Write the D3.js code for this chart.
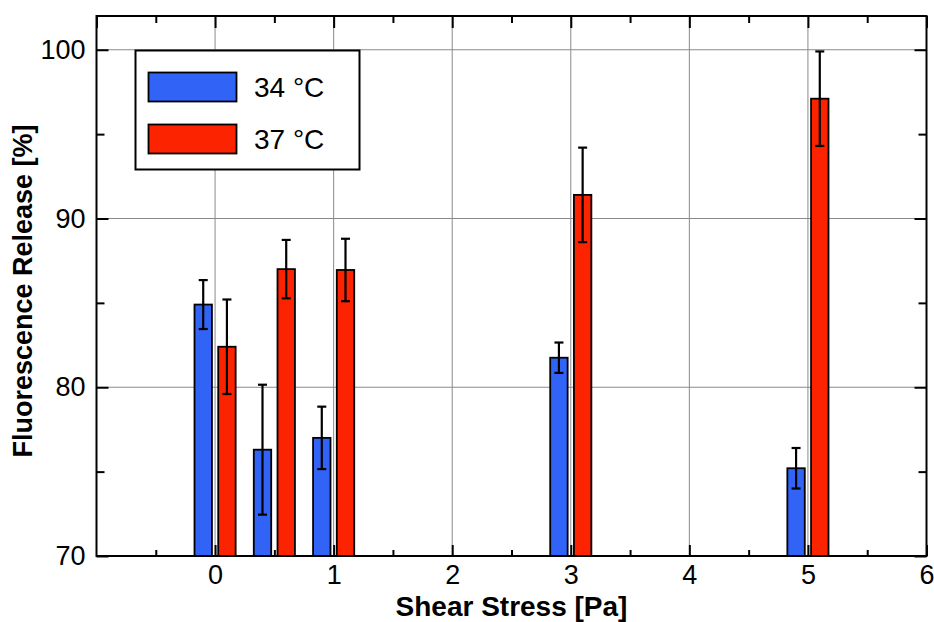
<!DOCTYPE html>
<html>
<head>
<meta charset="utf-8">
<script src="https://cdn.jsdelivr.net/npm/d3@7"></script>
<style>
  html, body { margin: 0; padding: 0; background: #fff; }
  svg { display: block; font-family: "Liberation Sans", Arial, Helvetica, sans-serif; }
</style>
</head>
<body>
<svg id="chart" width="934" height="622"></svg>
<script>
// Shear stress levels and fluorescence release at two temperatures
const shearStress = [0, 0.5, 1, 3, 5];
const release34 = [84.9, 76.3, 77.0, 81.75, 75.2];
const error34 = [1.45, 3.85, 1.85, 0.9, 1.2];
const release37 = [82.4, 87.0, 86.95, 91.4, 97.1];
const error37 = [2.8, 1.73, 1.85, 2.8, 2.8];
const seriesNames = ["34 °C", "37 °C"];
const xTickLabels = [0, 1, 2, 3, 4, 5, 6];
const yTickLabels = [70, 80, 90, 100];

const colors = ["#3063f6", "#fb2300"];
const svg = d3.select("#chart");

const x = d3.scaleLinear().domain([-1, 6]).range([96.5, 926.5]);
const y = d3.scaleLinear().domain([70, 102]).range([556, 16]);

const barW = 0.147;   // bar width in x units
const offset = 0.1;   // bar centre shift from the category value

const xMajor = d3.range(-1, 7, 1);
const xMinor = d3.range(-0.5, 6, 1);
const yMajor = d3.range(70, 101, 10);
const yMinor = d3.range(75, 101, 10);

// grid lines
const grid = svg.append("g").attr("stroke", "#8a8a8a").attr("stroke-width", 1);
grid.selectAll("line.v").data(xMajor.filter(d => d > -1 && d < 6)).join("line")
  .attr("x1", d => x(d)).attr("x2", d => x(d))
  .attr("y1", y.range()[1]).attr("y2", y.range()[0]);
grid.selectAll("line.h").data(yMajor.filter(d => d > 70)).join("line")
  .attr("y1", d => y(d)).attr("y2", d => y(d))
  .attr("x1", x.range()[0]).attr("x2", x.range()[1]);

// axes with inward ticks on all four sides
function styleAxis(g) {
  g.select(".domain").remove();
  g.selectAll(".tick line").attr("stroke", "#000").attr("stroke-width", 2);
  g.selectAll(".tick text").attr("fill", "#000").attr("font-size", 27);
}
svg.append("g").attr("transform", `translate(0,${y(70)})`)
  .call(d3.axisBottom(x).tickValues(xTickLabels.filter(d => d >= 0)).tickSize(-11).tickPadding(9).tickFormat(d3.format("d")))
  .call(styleAxis);
svg.append("g").attr("transform", `translate(0,${y(70)})`)
  .call(d3.axisBottom(x).tickValues(xMinor).tickSize(-6).tickFormat(""))
  .call(styleAxis);
svg.append("g").attr("transform", `translate(0,${y(102)})`)
  .call(d3.axisTop(x).tickValues(xMajor).tickSize(-12).tickFormat(""))
  .call(styleAxis);
svg.append("g").attr("transform", `translate(0,${y(102)})`)
  .call(d3.axisTop(x).tickValues(xMinor).tickSize(-7).tickFormat(""))
  .call(styleAxis);
svg.append("g").attr("transform", `translate(${x(-1)},0)`)
  .call(d3.axisLeft(y).tickValues(yTickLabels).tickSize(-12).tickPadding(11).tickFormat(d3.format("d")))
  .call(styleAxis);
svg.append("g").attr("transform", `translate(${x(-1)},0)`)
  .call(d3.axisLeft(y).tickValues(yMinor).tickSize(-8).tickFormat(""))
  .call(styleAxis);
svg.append("g").attr("transform", `translate(${x(6)},0)`)
  .call(d3.axisRight(y).tickValues(yMajor).tickSize(-12).tickFormat(""))
  .call(styleAxis);
svg.append("g").attr("transform", `translate(${x(6)},0)`)
  .call(d3.axisRight(y).tickValues(yMinor).tickSize(-8).tickFormat(""))
  .call(styleAxis);

// bars with error bars
const series = [
  { values: release34, errors: error34, shift: -offset, color: colors[0] },
  { values: release37, errors: error37, shift: offset, color: colors[1] }
];
series.forEach(s => {
  const rows = shearStress.map((xv, i) => ({ xv, v: s.values[i], e: s.errors[i] }));
  const g = svg.append("g");
  g.selectAll("rect").data(rows).join("rect")
    .attr("x", d => x(d.xv + s.shift - barW / 2))
    .attr("width", d => x(d.xv + s.shift + barW / 2) - x(d.xv + s.shift - barW / 2))
    .attr("y", d => y(d.v))
    .attr("height", d => y(70) - y(d.v))
    .attr("fill", s.color).attr("stroke", "#000").attr("stroke-width", 1.8);
  const eg = g.append("g").attr("stroke", "#000").attr("stroke-width", 2.2);
  eg.selectAll("line.stem").data(rows).join("line")
    .attr("x1", d => x(d.xv + s.shift)).attr("x2", d => x(d.xv + s.shift))
    .attr("y1", d => y(d.v + d.e)).attr("y2", d => y(d.v - d.e));
  ["+", "-"].forEach(sign => {
    eg.selectAll(null).data(rows).join("line")
      .attr("x1", d => x(d.xv + s.shift) - 4.5).attr("x2", d => x(d.xv + s.shift) + 4.5)
      .attr("y1", d => y(sign === "+" ? d.v + d.e : d.v - d.e))
      .attr("y2", d => y(sign === "+" ? d.v + d.e : d.v - d.e));
  });
});

// plot frame
svg.append("rect")
  .attr("x", x(-1)).attr("y", y(102))
  .attr("width", x(6) - x(-1)).attr("height", y(70) - y(102))
  .attr("fill", "none").attr("stroke", "#000").attr("stroke-width", 2);

// legend
const lg = svg.append("g");
lg.append("rect").attr("x", 135.5).attr("y", 50.5).attr("width", 224).attr("height", 119)
  .attr("fill", "#fff").attr("stroke", "#000").attr("stroke-width", 2);
seriesNames.forEach((name, i) => {
  lg.append("rect").attr("x", 148.5).attr("y", 72.5 + i * 52).attr("width", 88).attr("height", 29)
    .attr("fill", colors[i]).attr("stroke", "#000").attr("stroke-width", 1.8);
  lg.append("text").attr("x", 254).attr("y", 97 + i * 52)
    .attr("font-size", 28).attr("fill", "#000").text(name);
});

// axis titles
svg.append("text").attr("x", x(2.5)).attr("y", 616)
  .attr("text-anchor", "middle").attr("font-size", 28).attr("font-weight", "bold")
  .text("Shear Stress [Pa]");
svg.append("text").attr("transform", `translate(32,291) rotate(-90)`)
  .attr("text-anchor", "middle").attr("font-size", 27).attr("font-weight", "bold")
  .text("Fluorescence Release [%]");
</script>
</body>
</html>
